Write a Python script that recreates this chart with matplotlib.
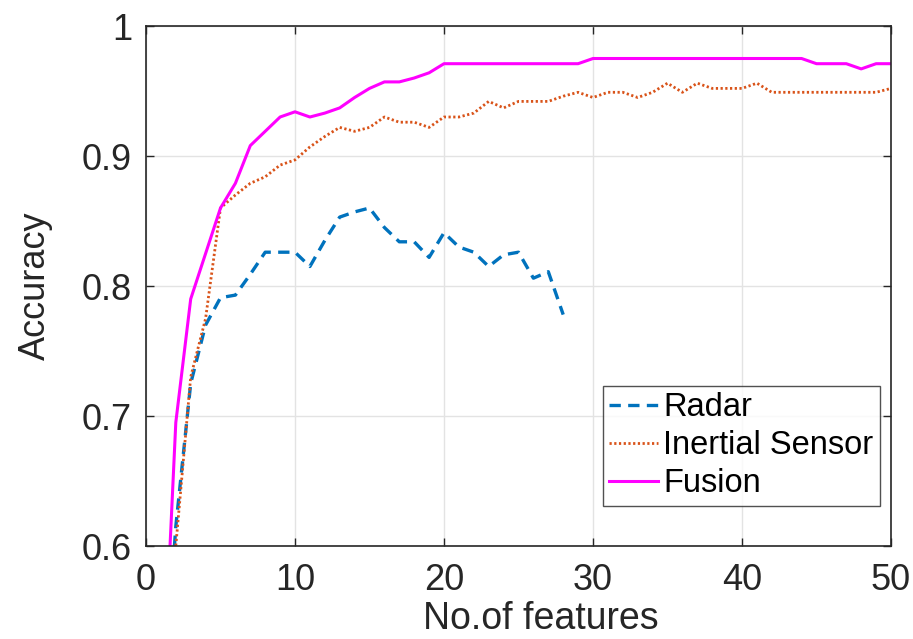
import matplotlib
matplotlib.use("Agg")
import matplotlib.pyplot as plt
import numpy as np

plt.rcParams['font.family'] = ['Liberation Sans', 'DejaVu Sans']

# Data
x_radar = list(range(1, 29))
radar = [0.45, 0.615, 0.725, 0.770, 0.791, 0.793, 0.809, 0.826, 0.826, 0.826,
         0.815, 0.835, 0.853, 0.857, 0.860, 0.845, 0.834, 0.834, 0.822, 0.841,
         0.830, 0.826, 0.815, 0.824, 0.826, 0.806, 0.811, 0.778]

x_all = list(range(1, 51))
inertial = [0.40, 0.600, 0.730, 0.775, 0.860, 0.870, 0.879, 0.884, 0.893, 0.897,
            0.907, 0.915, 0.922, 0.919, 0.922, 0.930, 0.926, 0.926, 0.922, 0.930,
            0.930, 0.933, 0.942, 0.937, 0.942, 0.942, 0.942, 0.946, 0.949, 0.945,
            0.949, 0.949, 0.945, 0.949, 0.956, 0.949, 0.956, 0.952, 0.952, 0.952,
            0.956, 0.949, 0.949, 0.949, 0.949, 0.949, 0.949, 0.949, 0.949, 0.952]
fusion = [0.45, 0.695, 0.790, 0.825, 0.860, 0.879, 0.908, 0.919, 0.930, 0.934,
          0.930, 0.933, 0.937, 0.945, 0.952, 0.957, 0.957, 0.960, 0.964, 0.971,
          0.971, 0.971, 0.971, 0.971, 0.971, 0.971, 0.971, 0.971, 0.971, 0.975,
          0.975, 0.975, 0.975, 0.975, 0.975, 0.975, 0.975, 0.975, 0.975, 0.975,
          0.975, 0.975, 0.975, 0.975, 0.971, 0.971, 0.971, 0.967, 0.971, 0.971]

x_ticks = [0, 10, 20, 30, 40, 50]
y_ticks = [0.6, 0.7, 0.8, 0.9, 1.0]
y_tick_labels = ['0.6', '0.7', '0.8', '0.9', '1']

fig = plt.figure(figsize=(9.13, 6.39), dpi=100)
ax = fig.add_axes([146/913, 1-546/639, (891-146)/913, (546-26)/639])

ax.plot(x_radar, radar, linestyle=(0, (3.4, 2.2)), color='#0072BD', lw=2.4, label='Radar')
ax.plot(x_all, inertial, linestyle=(0, (0.8, 0.9)), color='#D95319', lw=2.0, label='Inertial Sensor')
ax.plot(x_all, fusion, linestyle='-', color='#FF00FF', lw=2.2, label='Fusion')

ax.set_xlim(0, 50)
ax.set_ylim(0.6, 1.0)
ax.set_xticks(x_ticks)
ax.set_yticks(y_ticks)
ax.set_yticklabels(y_tick_labels)
ax.grid(True, color='#E3E3E3', lw=1.0)
ax.set_axisbelow(True)
ax.tick_params(direction='in', top=True, right=True, length=6, width=1,
               colors='#262626', labelsize=26)
ax.tick_params(axis='x', pad=12)
ax.tick_params(axis='y', pad=10)
for s in ax.spines.values():
    s.set_color('#262626')
    s.set_linewidth(1.2)

ax.set_xlabel('No.of features', fontsize=27, color='#262626', va='top')
ax.xaxis.set_label_coords((541 - 146) / 745, -(601 - 546) / 520)
ax.set_ylabel('Accuracy', fontsize=26, color='#262626', labelpad=21)

leg = ax.legend(loc='lower right', bbox_to_anchor=((880-146)/745, (546-506)/520),
                fontsize=23.5, frameon=True, fancybox=False, edgecolor='#262626',
                handlelength=1.5, handletextpad=0.15, borderpad=0.2,
                labelspacing=0.22, borderaxespad=0.0)
leg.get_frame().set_linewidth(1.0)

fig.savefig('out.png', dpi=100, facecolor='white')
